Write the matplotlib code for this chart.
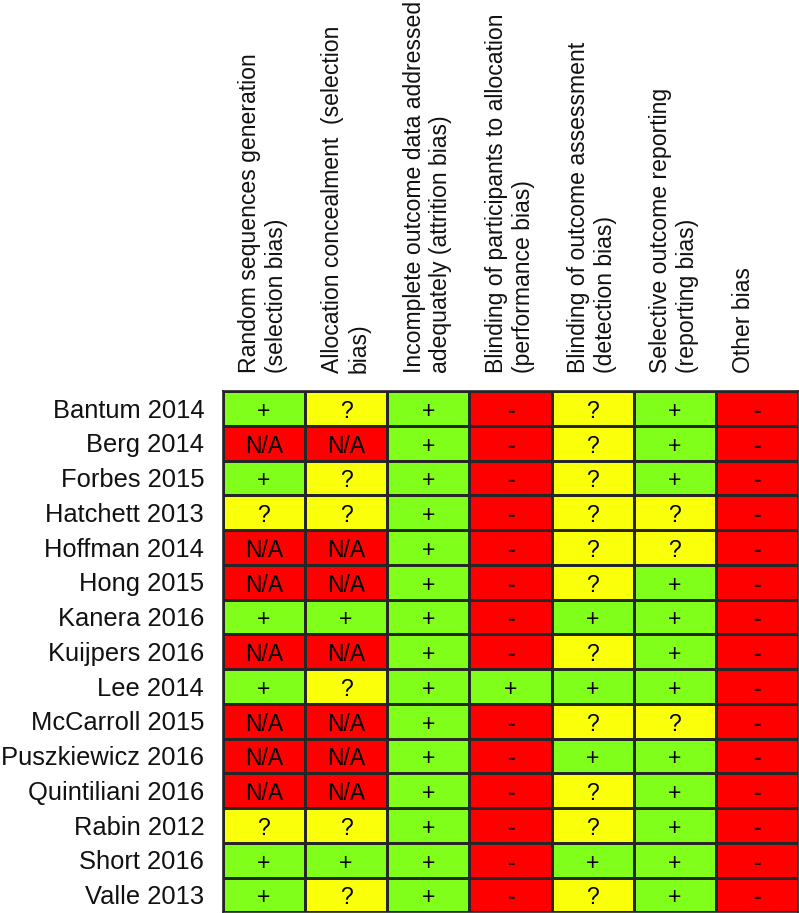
import numpy as np
import matplotlib
matplotlib.use('Agg')
import matplotlib.pyplot as plt
from matplotlib.colors import ListedColormap

plt.rcParams['font.family'] = ['Liberation Sans', 'DejaVu Sans']

studies = ['Bantum 2014', 'Berg 2014', 'Forbes 2015', 'Hatchett 2013', 'Hoffman 2014',
           'Hong 2015', 'Kanera 2016', 'Kuijpers 2016', 'Lee 2014', 'McCarroll 2015',
           'Puszkiewicz 2016', 'Quintiliani 2016', 'Rabin 2012', 'Short 2016', 'Valle 2013']

domains = ['Random sequences generation\n(selection bias)',
           'Allocation concealment  (selection\nbias)',
           'Incomplete outcome data addressed\nadequately (attrition bias)',
           'Blinding of participants to allocation\n(performance bias)',
           'Blinding of outcome assessment\n(detection bias)',
           'Selective outcome reporting\n(reporting bias)',
           'Other bias']

# one list per domain, in study order
random_seq = ['+', 'N/A', '+', '?', 'N/A', 'N/A', '+', 'N/A', '+', 'N/A', 'N/A', 'N/A', '?', '+', '+']
alloc_conc = ['?', 'N/A', '?', '?', 'N/A', 'N/A', '+', 'N/A', '?', 'N/A', 'N/A', 'N/A', '?', '+', '?']
incomplete = ['+'] * 15
blind_part = ['-', '-', '-', '-', '-', '-', '-', '-', '+', '-', '-', '-', '-', '-', '-']
blind_outc = ['?', '?', '?', '?', '?', '?', '+', '?', '+', '?', '+', '?', '?', '+', '?']
selective = ['+', '+', '+', '?', '?', '+', '+', '+', '+', '?', '+', '+', '+', '+', '+']
other_bias = ['-'] * 15

table = [random_seq, alloc_conc, incomplete, blind_part, blind_outc, selective, other_bias]
code = {'+': 0, '?': 1, '-': 2, 'N/A': 2}

nrow, ncol = len(studies), len(domains)
C = np.array([[code[table[j][i]] for j in range(ncol)] for i in range(nrow)])

W, H = 799, 913
fig = plt.figure(figsize=(W / 100, H / 100), dpi=100)
left, right, top, bottom = 222.7, 798.2, 391.0, 912.3
ax = fig.add_axes([left / W, 1 - bottom / H, (right - left) / W, (bottom - top) / H])

cmap = ListedColormap(['#80FF1A', '#FAFF0A', '#FF0000'])
ax.pcolormesh(np.arange(ncol + 1), np.arange(nrow + 1), C, cmap=cmap, vmin=0, vmax=2,
              edgecolors='#262626', linewidth=1.0)
ax.set_xlim(0, ncol)
ax.set_ylim(nrow, 0)
ax.set_xticks([])
ax.set_yticks([])
for s in ax.spines.values():
    s.set_color('#262626')
    s.set_linewidth(1.2)

# cell symbols
for i in range(nrow):
    for j in range(ncol):
        t = table[j][i]
        ax.text(j + 0.5, i + 0.5 + 0.27, t, ha='center', va='baseline',
                fontsize=16.5, color='#300000' if t == '-' else 'black',
                fontweight='bold' if t == '-' else 'normal')

# study labels
for i, s in enumerate(studies):
    ax.text(-0.225, i + 0.5 + 0.265, s, ha='right', va='baseline', fontsize=18.4,
            color='#111111', clip_on=False)

# rotated domain headers
for j, d in enumerate(domains):
    ax.text(j + 0.19, -0.52, d, rotation=90, ha='left', va='bottom', fontsize=16.6,
            color='#111111', linespacing=1.2, clip_on=False)

fig.savefig('out.png', dpi=100)
